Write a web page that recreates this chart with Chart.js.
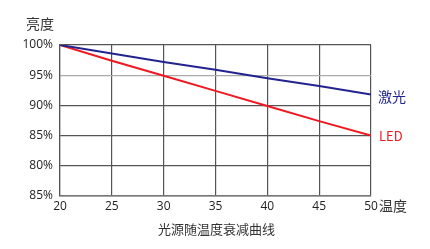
<!DOCTYPE html>
<html lang="zh">
<head>
  <meta charset="UTF-8" />
  <title>光源随温度衰减曲线</title>
  <style>
    body { margin: 0; background: #fff; }
    #wrap { width: 430px; height: 249px; }
  </style>
</head>
<body>
<div id="wrap"><canvas id="decayChart" width="430" height="249"></canvas></div>

<script src="https://cdn.jsdelivr.net/npm/chart.js"></script>
<script>
  // values
  const temps = [20, 25, 30, 35, 40, 45, 50];
  const laser = [100, 98.6, 97.2, 95.9, 94.5, 93.2, 91.8];
  const led = [100, 97.4, 94.9, 92.4, 89.9, 87.4, 85];
  const yTickLabels = ['85%', '80%', '85%', '90%', '95%', '100%'];  // bottom label as printed

  const cjk = '"Noto Sans CJK SC", "Noto Sans", sans-serif';
  const blue = '#23238f';
  const red = '#f01820';

  // free text around the plot
  const textPlugin = {
    id: 'labels',
    afterDraw(chart) {
      const { ctx, chartArea: a, scales } = chart;
      ctx.save();
      ctx.textBaseline = 'middle';
      ctx.fillStyle = '#333';
      ctx.font = '14px ' + cjk;
      ctx.textAlign = 'left';
      ctx.fillText('亮度', 26, 24);
      ctx.fillText('温度', a.right + 8, 206);
      ctx.font = '13px ' + cjk;
      ctx.textAlign = 'center';
      ctx.fillText('光源随温度衰减曲线', (a.left + a.right) / 2 + 1, 229);
      ctx.textAlign = 'left';
      ctx.font = '14px ' + cjk;
      ctx.fillStyle = blue;
      ctx.fillText('激光', a.right + 7, scales.y.getPixelForValue(laser[laser.length - 1]) + 2);
      ctx.font = '13px ' + cjk;
      ctx.fillStyle = red;
      ctx.fillText('LED', a.right + 8, scales.y.getPixelForValue(led[led.length - 1]));
      ctx.restore();
    }
  };

  new Chart(document.getElementById('decayChart'), {
    type: 'line',
    data: {
      datasets: [
        {
          label: '激光',
          data: temps.map((t, i) => ({ x: t, y: laser[i] })),
          borderColor: blue,
          borderWidth: 2,
          pointRadius: 0,
          tension: 0
        },
        {
          label: 'LED',
          data: temps.map((t, i) => ({ x: t, y: led[i] })),
          borderColor: red,
          borderWidth: 2,
          pointRadius: 0,
          tension: 0
        }
      ]
    },
    options: {
      responsive: false,
      animation: false,
      layout: { padding: { top: 45, right: 59, left: 0, bottom: 0 } },
      plugins: { legend: { display: false }, tooltip: { enabled: false } },
      scales: {
        x: {
          type: 'linear',
          min: 20,
          max: 50,
          afterFit: s => { s.height = 53; },
          ticks: {
            stepSize: 5,
            padding: 3,
            color: '#222',
            font: { family: '"Open Sans", sans-serif', size: 12 }
          },
          grid: { color: '#555', lineWidth: 1.2, drawTicks: false },
          border: { color: '#777', width: 1.6 }
        },
        y: {
          min: 75,
          max: 100,
          afterFit: s => { s.width = 60; },
          ticks: {
            stepSize: 5,
            padding: 7,
            color: '#222',
            font: { family: '"Open Sans", sans-serif', size: 12 },
            callback: (v, i) => yTickLabels[i]
          },
          grid: {
            color: ctx => (ctx.tick && ctx.tick.value === 95 ? '#aaa' : '#555'),
            lineWidth: 1.2,
            drawTicks: false
          },
          border: { color: '#555', width: 1.2 }
        }
      }
    },
    plugins: [textPlugin]
  });
</script>
</body>
</html>
